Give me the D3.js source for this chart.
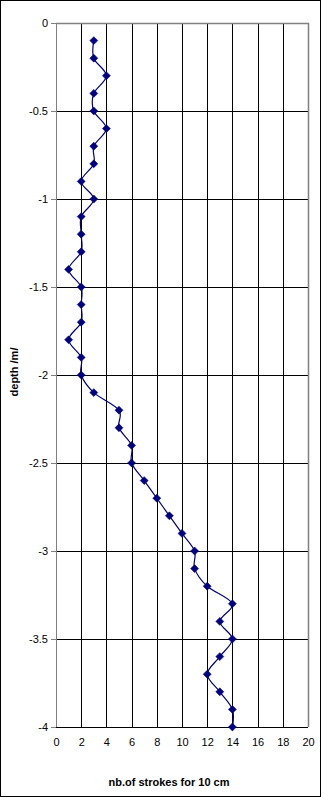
<!DOCTYPE html>
<html>
<head>
<meta charset="utf-8">
<script src="https://cdn.jsdelivr.net/npm/d3@7"></script>
<style>
  body { margin: 0; background: #fff; }
  svg { display: block; font-family: Arial, "Liberation Sans", sans-serif; }
</style>
</head>
<body>
<div id="chart"></div>
<script>
// depth (m) and number of strokes per 10 cm
var depths = [-0.1, -0.2, -0.3, -0.4, -0.5, -0.6, -0.7, -0.8, -0.9, -1.0,
  -1.1, -1.2, -1.3, -1.4, -1.5, -1.6, -1.7, -1.8, -1.9, -2.0,
  -2.1, -2.2, -2.3, -2.4, -2.5, -2.6, -2.7, -2.8, -2.9, -3.0,
  -3.1, -3.2, -3.3, -3.4, -3.5, -3.6, -3.7, -3.8, -3.9, -4.0];
var strokes = [3, 3, 4, 3, 3, 4, 3, 3, 2, 3,
  2, 2, 2, 1, 2, 2, 2, 1, 2, 2,
  3, 5, 5, 6, 6, 7, 8, 9, 10, 11,
  11, 12, 14, 13, 14, 13, 12, 13, 14, 14];
var xTicks = [0, 2, 4, 6, 8, 10, 12, 14, 16, 18, 20];
var yTicks = [0, -0.5, -1, -1.5, -2, -2.5, -3, -3.5, -4];

var svgWidth = 321;
var svgHeight = 797;
var margin = { top: 23, right: 13, bottom: 70, left: 56 };
var width = svgWidth - margin.left - margin.right;
var height = svgHeight - margin.top - margin.bottom;

var svg = d3.select("#chart")
  .append("svg")
  .attr("width", svgWidth)
  .attr("height", svgHeight);

// outer frame
svg.append("rect")
  .attr("x", 0.5).attr("y", 0.5)
  .attr("width", svgWidth - 1).attr("height", svgHeight - 1)
  .attr("fill", "#fff")
  .attr("stroke", "#000");

var chartGroup = svg.append("g")
  .attr("transform", `translate(${margin.left}, ${margin.top})`);

var x = d3.scaleLinear().domain([0, 20]).range([0, width]);
var y = d3.scaleLinear().domain([-4, 0]).range([height, 0]);

// gridlines
chartGroup.append("g").selectAll("line")
  .data(xTicks.filter(d => d > 0 && d < 20))
  .enter().append("line")
  .attr("x1", d => Math.round(x(d)) + 0.5).attr("x2", d => Math.round(x(d)) + 0.5)
  .attr("y1", 0).attr("y2", height)
  .attr("stroke", "#000");

chartGroup.append("g").selectAll("line")
  .data(yTicks.filter(d => d < 0))
  .enter().append("line")
  .attr("x1", 0).attr("x2", width)
  .attr("y1", d => Math.round(y(d)) + 0.5).attr("y2", d => Math.round(y(d)) + 0.5)
  .attr("stroke", "#000");

// plot area border (top and right)
chartGroup.append("path")
  .attr("d", `M0,0.5H${width + 0.5}V${height}`)
  .attr("fill", "none")
  .attr("stroke", "#808080")
  .attr("stroke-width", 1.5);

// left axis
var leftAxis = d3.axisLeft(y).tickValues(yTicks).tickSize(5).tickFormat(d3.format("~g"));
var gy = chartGroup.append("g").call(leftAxis);
gy.select(".domain").attr("stroke", "#808080").attr("d", `M0.5,0V${height}`);
gy.selectAll(".tick line").attr("stroke", "#808080");
gy.selectAll(".tick text")
  .attr("font-size", "11px")
  .attr("font-family", "Arial, 'Liberation Sans', sans-serif")
  .attr("fill", "#000")
  .attr("x", -8)
  .text(d => d === 0 ? "0" : d3.format("~g")(d).replace("−", "-"));

// bottom labels
var bottomAxis = d3.axisBottom(x).tickValues(xTicks).tickSize(0).tickPadding(11);
var gx = chartGroup.append("g")
  .attr("transform", `translate(0, ${height})`)
  .call(bottomAxis);
gx.select(".domain").remove();
gx.selectAll(".tick text")
  .attr("font-size", "11px")
  .attr("font-family", "Arial, 'Liberation Sans', sans-serif")
  .attr("fill", "#000");

// the series
var points = depths.map((d, i) => ({ depth: d, n: strokes[i] }));

var line = d3.line()
  .x(d => x(d.n))
  .y(d => y(d.depth))
  .curve(d3.curveCardinal.tension(0));

chartGroup.append("path")
  .datum(points)
  .attr("d", line)
  .attr("fill", "none")
  .attr("stroke", "#000080")
  .attr("stroke-width", 1.2);

chartGroup.append("g").selectAll("path")
  .data(points)
  .enter().append("path")
  .attr("d", d3.symbol().type(d3.symbolDiamond2).size(40))
  .attr("transform", d => `translate(${x(d.n)}, ${y(d.depth)})`)
  .attr("fill", "#000080")
  .attr("stroke", "#000080")
  .attr("stroke-width", 0.6);

// axis titles
svg.append("text")
  .attr("x", 169)
  .attr("y", 786)
  .attr("text-anchor", "middle")
  .attr("font-size", "11px")
  .attr("font-weight", "bold")
  .text("nb.of strokes for 10 cm");

svg.append("text")
  .attr("transform", "translate(18, 372) rotate(-90)")
  .attr("text-anchor", "middle")
  .attr("font-size", "11px")
  .attr("font-weight", "bold")
  .text("depth /m/");
</script>
</body>
</html>
